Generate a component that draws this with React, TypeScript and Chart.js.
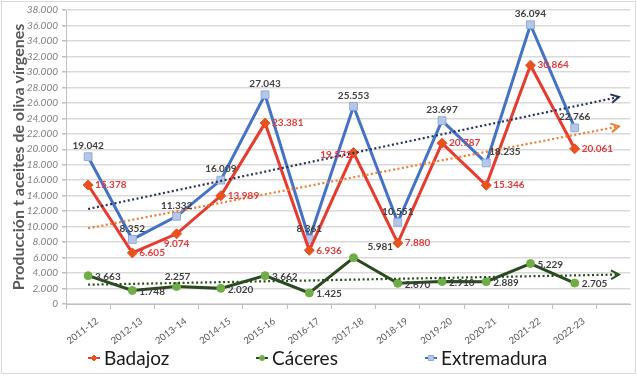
import React, { useEffect, useRef } from 'react';
import { Chart, registerables } from 'chart.js';

Chart.register(...registerables);

// ---- data ----
const campaigns = ['2011-12', '2012-13', '2013-14', '2014-15', '2015-16', '2016-17', '2017-18', '2018-19', '2019-20', '2020-21', '2021-22', '2022-23'];
const badajoz = [15378, 6605, 9074, 13989, 23381, 6936, 19572, 7880, 20787, 15346, 30864, 20061];
const caceres = [3663, 1748, 2257, 2020, 3662, 1425, 5981, 2670, 2910, 2889, 5229, 2705];
const extremadura = [19042, 8352, 11332, 16009, 27043, 8361, 25553, 10551, 23697, 18235, 36094, 22766];
const yMin = 0;
const yMax = 38000;
const yStep = 2000;
const trendForward = 1;
const yTitle = 'Producción t aceites de oliva vírgenes';

const FONT = "Lato, 'Open Sans', sans-serif";

function fmt(v: number): string {
  const s = Math.round(v).toString();
  return s.replace(/\B(?=(\d{3})+(?!\d))/g, '.');
}

function linearTrend(values: number[], forward: number) {
  const n = values.length;
  const mx = (n - 1) / 2;
  const my = values.reduce((a, b) => a + b, 0) / n;
  let sxy = 0;
  let sxx = 0;
  values.forEach((y, x) => {
    sxy += (x - mx) * (y - my);
    sxx += (x - mx) * (x - mx);
  });
  const b = sxy / sxx;
  const a = my - b * mx;
  const xe = n - 1 + forward;
  return [
    { x: 0, y: a },
    { x: xe, y: a + b * xe },
  ];
}

type Place = [number, number, CanvasTextAlign];

const series = [
  {
    label: 'Badajoz',
    data: badajoz,
    line: '#e63b2e',
    pointFill: '#e8521f',
    pointBorder: '#e8521f',
    pointStyle: 'rectRot',
    radius: 5,
    trend: '#ed7d31',
    labelColor: '#e23a3a',
    legendX: 88,
    place: [7, 0, 'left'] as Place,
    overrides: { 2: [0, 10, 'center'], 6: [-2, 2, 'right'] } as Record<number, Place>,
  },
  {
    label: 'Cáceres',
    data: caceres,
    line: '#2b4a1f',
    pointFill: '#70ad47',
    pointBorder: '#70ad47',
    pointStyle: 'circle',
    radius: 4,
    trend: '#24501a',
    labelColor: '#404040',
    legendX: 256,
    place: [7, 1, 'left'] as Place,
    overrides: { 2: [1, -10, 'center'], 6: [14, -11, 'left'] } as Record<number, Place>,
  },
  {
    label: 'Extremadura',
    data: extremadura,
    line: '#4472c4',
    pointFill: '#b4c7e7',
    pointBorder: '#8faadc',
    pointStyle: 'rect',
    radius: 5.5,
    trend: '#25345a',
    labelColor: '#404040',
    legendX: 425,
    place: [0, -11, 'center'] as Place,
    overrides: { 9: [3, -11, 'left'] } as Record<number, Place>,
  },
];

const bgPlugin = {
  id: 'bg',
  beforeDraw(chart: any) {
    const { ctx, width, height } = chart;
    ctx.save();
    ctx.fillStyle = '#ffffff';
    ctx.fillRect(0, 0, width, height);
    ctx.strokeStyle = '#d9d9d9';
    ctx.lineWidth = 1;
    ctx.strokeRect(1.5, 1.5, width - 3, height - 4);
    ctx.restore();
  },
};

const arrowPlugin = {
  id: 'trendArrows',
  afterDatasetsDraw(chart: any) {
    const { ctx } = chart;
    chart.data.datasets.forEach((ds: any, i: number) => {
      if (!ds.isTrend) return;
      const meta = chart.getDatasetMeta(i);
      const pts = meta.data;
      const p1 = pts[pts.length - 2];
      const p2 = pts[pts.length - 1];
      const ang = Math.atan2(p2.y - p1.y, p2.x - p1.x);
      const L = 9;
      const spread = 0.5;
      ctx.save();
      ctx.strokeStyle = ds.borderColor;
      ctx.lineWidth = 2;
      ctx.setLineDash([]);
      ctx.beginPath();
      ctx.moveTo(p2.x - L * Math.cos(ang - spread), p2.y - L * Math.sin(ang - spread));
      ctx.lineTo(p2.x, p2.y);
      ctx.lineTo(p2.x - L * Math.cos(ang + spread), p2.y - L * Math.sin(ang + spread));
      ctx.stroke();
      ctx.restore();
    });
  },
};

const labelPlugin = {
  id: 'valueLabels',
  afterDatasetsDraw(chart: any) {
    const { ctx } = chart;
    ctx.save();
    ctx.font = `bold 10px ${FONT}`;
    ctx.textBaseline = 'middle';
    series.forEach((s, si) => {
      const meta = chart.getDatasetMeta(si);
      meta.data.forEach((pt: any, i: number) => {
        const pl = s.overrides[i] || s.place;
        ctx.fillStyle = s.labelColor;
        ctx.textAlign = pl[2];
        ctx.fillText(fmt(s.data[i]), pt.x + pl[0], pt.y + pl[1]);
      });
    });
    ctx.restore();
  },
};

// rotated category labels under the x axis
const xLabelPlugin = {
  id: 'xLabels',
  afterDraw(chart: any) {
    const { ctx } = chart;
    const xs = chart.scales.x;
    const top = xs.top;
    ctx.save();
    ctx.font = `9.5px ${FONT}`;
    ctx.fillStyle = '#595959';
    ctx.textAlign = 'right';
    ctx.textBaseline = 'middle';
    campaigns.forEach((c, i) => {
      const px = xs.getPixelForValue(i);
      ctx.save();
      ctx.translate(px + 9, top + 16);
      ctx.rotate((-37 * Math.PI) / 180);
      ctx.fillText(c, 0, 0);
      ctx.restore();
    });
    ctx.restore();
  },
};

function drawMarker(ctx: CanvasRenderingContext2D, s: any, x: number, y: number) {
  ctx.fillStyle = s.pointFill;
  ctx.strokeStyle = s.pointBorder;
  ctx.lineWidth = 1;
  ctx.beginPath();
  if (s.pointStyle === 'rectRot') {
    const r = 3;
    ctx.moveTo(x, y - r);
    ctx.lineTo(x + r, y);
    ctx.lineTo(x, y + r);
    ctx.lineTo(x - r, y);
    ctx.closePath();
  } else if (s.pointStyle === 'circle') {
    ctx.arc(x, y, 2.5, 0, Math.PI * 2);
  } else {
    ctx.rect(x - 2.5, y - 2.5, 5, 5);
  }
  ctx.fill();
  ctx.stroke();
}

const legendPlugin = {
  id: 'customLegend',
  afterDraw(chart: any) {
    const { ctx } = chart;
    ctx.save();
    ctx.font = `19px ${FONT}`;
    ctx.textBaseline = 'alphabetic';
    ctx.textAlign = 'left';
    const yMid = 358;
    const yBase = 365;
    series.forEach((s) => {
      const x = s.legendX;
      ctx.strokeStyle = s.line;
      ctx.lineWidth = 2;
      ctx.beginPath();
      ctx.moveTo(x, yMid);
      ctx.lineTo(x + 12, yMid);
      ctx.stroke();
      drawMarker(ctx, s, x + 6, yMid);
      ctx.fillStyle = '#1a1a1a';
      ctx.fillText(s.label, x + 16, yBase);
    });
    ctx.restore();
  },
};

export default function App() {
  const ref = useRef<HTMLCanvasElement | null>(null);

  useEffect(() => {
    if (!ref.current) return;
    Chart.defaults.font.family = FONT;

    const datasets: any[] = [];
    series.forEach((s) => {
      datasets.push({
        label: s.label,
        data: s.data.map((v, i) => ({ x: i, y: v })),
        borderColor: s.line,
        borderWidth: 3,
        backgroundColor: s.pointFill,
        pointBackgroundColor: s.pointFill,
        pointBorderColor: s.pointBorder,
        pointBorderWidth: 1,
        pointStyle: s.pointStyle,
        pointRadius: s.radius,
        tension: 0,
        order: 1,
      });
    });
    series.forEach((s) => {
      datasets.push({
        label: s.label + ' tendencia',
        isTrend: true,
        data: linearTrend(s.data, trendForward),
        borderColor: s.trend,
        borderWidth: 2.2,
        borderDash: [2, 2.5],
        pointRadius: 0,
        order: 0,
      });
    });

    const chart = new Chart(ref.current, {
      type: 'line',
      data: { datasets },
      options: {
        animation: false,
        responsive: false,
        devicePixelRatio: 1,
        layout: { padding: { left: 6, right: 7, top: 8, bottom: 32 } },
        plugins: {
          legend: { display: false },
          tooltip: { enabled: false },
        },
        scales: {
          x: {
            type: 'linear',
            min: -0.5,
            max: campaigns.length - 1 + trendForward + 0.25,
            afterBuildTicks: (scale: any) => {
              const t: any[] = [];
              for (let k = -1; k <= (campaigns.length - 1) * 2 + 1; k += 2) t.push({ value: k / 2 });
              scale.ticks = t;
            },
            afterFit: (scale: any) => {
              scale.height = 40;
            },
            grid: {
              drawOnChartArea: false,
              drawTicks: true,
              tickLength: 5,
              color: '#bfbfbf',
              tickColor: '#bfbfbf',
            },
            border: { display: true, color: '#bfbfbf', width: 1 },
            ticks: {
              display: false,
              autoSkip: false,
              maxRotation: 0,
              minRotation: 0,
            },
          },
          y: {
            min: yMin,
            max: yMax,
            afterFit: (scale: any) => {
              scale.width = 60;
            },
            grid: { color: '#d9d9d9', lineWidth: 1.5, tickLength: 4, tickColor: '#bfbfbf' },
            border: { display: true, color: '#bfbfbf', width: 1 },
            ticks: {
              stepSize: yStep,
              color: '#7f7f7f',
              padding: 4,
              font: { size: 10, style: 'italic' },
              callback: (v: any) => fmt(Number(v)),
            },
            title: {
              display: true,
              text: yTitle,
              color: '#595959',
              font: { size: 16, weight: 'bold' },
              padding: { top: 3, bottom: 0 },
            },
          },
        },
      } as any,
      plugins: [bgPlugin, arrowPlugin, labelPlugin, xLabelPlugin, legendPlugin],
    });
    return () => chart.destroy();
  }, []);

  return (
    <div style={{ position: 'absolute', left: 0, top: 0, width: 637, height: 376 }}>
      <canvas ref={ref} width={637} height={376} />
    </div>
  );
}
